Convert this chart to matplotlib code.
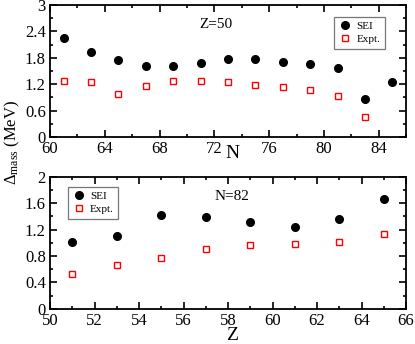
import matplotlib
matplotlib.use("Agg")
import matplotlib.pyplot as plt
from matplotlib.ticker import MultipleLocator

plt.rcParams['font.family'] = ['Liberation Serif', 'DejaVu Serif']
plt.rcParams['mathtext.fontset'] = 'custom'
plt.rcParams['mathtext.rm'] = 'Liberation Serif'
plt.rcParams['mathtext.it'] = 'Liberation Serif:italic'

# Top panel: Z=50 isotopes
n_values = [61, 63, 65, 67, 69, 71, 73, 75, 77, 79, 81, 83, 85]
sei_z50 = [2.24, 1.94, 1.75, 1.62, 1.62, 1.68, 1.78, 1.78, 1.71, 1.66, 1.56, 0.87, 1.24]
n_expt = [61, 63, 65, 67, 69, 71, 73, 75, 77, 79, 81, 83]
expt_z50 = [1.28, 1.25, 0.97, 1.15, 1.27, 1.28, 1.24, 1.18, 1.13, 1.07, 0.93, 0.45]

# Bottom panel: N=82 isotones
z_values = [51, 53, 55, 57, 59, 61, 63, 65]
sei_n82 = [1.01, 1.10, 1.42, 1.39, 1.31, 1.24, 1.36, 1.66]
expt_n82 = [0.52, 0.66, 0.77, 0.91, 0.97, 0.98, 1.02, 1.13]

fig = plt.figure(figsize=(4.15, 3.44), dpi=100)
ax1 = fig.add_axes([0.1205, 0.6017, 0.858, 0.3837])
ax2 = fig.add_axes([0.1205, 0.1026, 0.858, 0.3830])

def style(ax):
    ax.tick_params(which='both', direction='in', top=True, right=True,
                   labelsize=12, width=1.2, pad=3)
    ax.tick_params(which='major', length=5)
    ax.tick_params(which='minor', length=2.5)
    for s in ax.spines.values():
        s.set_linewidth(1.3)

sei_kw = dict(linestyle='none', marker='o', color='black', markersize=5.5, label='SEI')
exp_kw = dict(linestyle='none', marker='s', markerfacecolor='white', markeredgecolor='red',
              markeredgewidth=1.0, markersize=4, label='Expt.')

ax1.plot(n_values, sei_z50, **sei_kw)
ax1.plot(n_expt, expt_z50, **exp_kw)
ax1.set_xlim(60, 86)
ax1.set_ylim(0, 3)
ax1.xaxis.set_major_locator(MultipleLocator(4))
ax1.xaxis.set_minor_locator(MultipleLocator(2))
ax1.yaxis.set_major_locator(MultipleLocator(0.6))
ax1.yaxis.set_minor_locator(MultipleLocator(0.3))
ax1.set_yticks([0, 0.6, 1.2, 1.8, 2.4, 3.0])
ax1.set_yticklabels(['0', '0.6', '1.2', '1.8', '2.4', '3'])
style(ax1)
ax1.set_xlabel('N', fontsize=14)
ax1.xaxis.set_label_coords(0.511, -0.06)
ax1.text(0.465, 0.85, 'Z=50', transform=ax1.transAxes, fontsize=11, ha='center', va='center')
leg1 = ax1.legend(loc='upper right', bbox_to_anchor=(0.94, 0.91), fontsize=8, frameon=True,
                  fancybox=False, edgecolor='#555555', handletextpad=0.4, borderpad=0.4,
                  handlelength=1.2, labelspacing=0.3, borderaxespad=0)
leg1.get_frame().set_linewidth(0.9)

ax2.plot(z_values, sei_n82, **sei_kw)
ax2.plot(z_values, expt_n82, **exp_kw)
ax2.set_xlim(50, 66)
ax2.set_ylim(0, 2)
ax2.xaxis.set_major_locator(MultipleLocator(2))
ax2.xaxis.set_minor_locator(MultipleLocator(1))
ax2.set_yticks([0, 0.4, 0.8, 1.2, 1.6, 2.0])
ax2.set_yticklabels(['0', '0.4', '0.8', '1.2', '1.6', '2'])
ax2.yaxis.set_minor_locator(MultipleLocator(0.2))
style(ax2)
ax2.set_xlabel('Z', fontsize=14)
ax2.xaxis.set_label_coords(0.511, -0.14)
ax2.text(0.51, 0.85, 'N=82', transform=ax2.transAxes, fontsize=11, ha='center', va='center')
leg2 = ax2.legend(loc='upper left', bbox_to_anchor=(0.05, 0.925), fontsize=8, frameon=True,
                  fancybox=False, edgecolor='#555555', handletextpad=0.4, borderpad=0.4,
                  handlelength=1.2, labelspacing=0.3, borderaxespad=0)
leg2.get_frame().set_linewidth(0.9)

fig.text(0.03, 0.587, r'$\Delta_{\mathrm{mass}}$ (MeV)', rotation=90, fontsize=12,
         ha='center', va='center')

fig.savefig('out.png', dpi=100)
